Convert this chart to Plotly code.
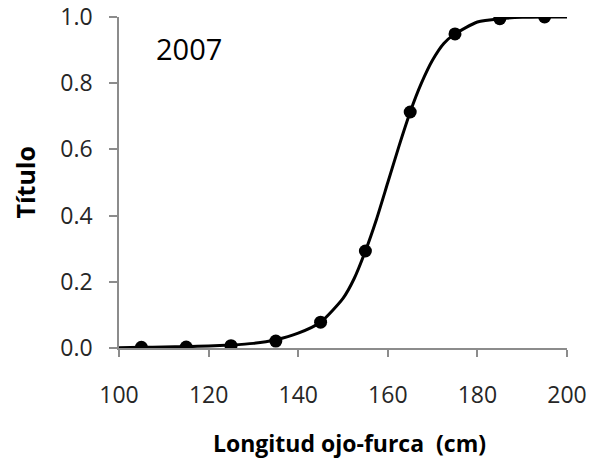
import plotly.graph_objects as go

# Observed proportions (dots)
length_cm = [105, 115, 125, 135, 145, 155, 165, 175, 185, 195]
proportion = [0.002, 0.003, 0.007, 0.021, 0.078, 0.293, 0.713, 0.949, 0.995, 1.0]

# Fitted curve, values
curve_x = [100, 105, 110, 115, 120, 125, 130, 135, 140, 145, 150, 152.5, 155, 157.5,
           160, 162.5, 165, 167.5, 170, 172.5, 175, 180, 185, 190, 195, 200]
curve_y = [0.001, 0.002, 0.003, 0.004, 0.006, 0.009, 0.014, 0.025, 0.045, 0.078, 0.15,
           0.21, 0.293, 0.39, 0.50, 0.61, 0.713, 0.80, 0.87, 0.92, 0.949, 0.985, 0.995,
           0.999, 1.0, 1.0]

x_ticks = [100, 120, 140, 160, 180, 200]
y_ticks = [0.0, 0.2, 0.4, 0.6, 0.8, 1.0]
y_tick_labels = ["0.0", "0.2", "0.4", "0.6", "0.8", "1.0"]

FONT = "Open Sans"

fig = go.Figure()
fig.add_trace(go.Scatter(x=curve_x, y=curve_y, mode="lines",
                         line=dict(color="black", width=3, shape="spline", smoothing=0.6),
                         hoverinfo="skip", showlegend=False))
fig.add_trace(go.Scatter(x=length_cm, y=proportion, mode="markers",
                         marker=dict(color="black", size=13), showlegend=False))

fig.update_layout(
    width=604, height=470,
    margin=dict(l=119, r=37, t=17, b=122, autoexpand=False),
    paper_bgcolor="white", plot_bgcolor="white",
    font=dict(family=FONT, color="#262626"),
    annotations=[
        dict(x=115.6, y=0.905, xref="x", yref="paper", text="2007",
             showarrow=False, xanchor="center", yanchor="middle",
             font=dict(family=FONT, size=29, color="black")),
        dict(x=0.5, xshift=6, y=-0.287, xref="paper", yref="paper",
             text="<b>Longitud ojo-furca  (cm)</b>", showarrow=False,
             xanchor="center", yanchor="middle",
             font=dict(family=FONT, size=23, color="black")),
        dict(x=-0.212, y=0.5, xref="paper", yref="paper", text="<b>Título</b>",
             textangle=-90, showarrow=False, xanchor="center", yanchor="middle",
             font=dict(family=FONT, size=25, color="black")),
    ],
)
fig.update_xaxes(range=[100, 200], tickvals=x_ticks, showline=True, linecolor="#8c8c8c",
                 linewidth=1.5, ticks="outside", ticklen=7, tickcolor="#8c8c8c",
                 tickwidth=1.5, showgrid=False, zeroline=False, ticklabelstandoff=19,
                 ticklabeloverflow="allow",
                 tickfont=dict(size=23, family=FONT, color="#262626"))
fig.update_yaxes(range=[0, 1.0], tickvals=y_ticks, ticktext=y_tick_labels, showline=True,
                 linecolor="#8c8c8c", linewidth=1.5, ticks="outside", ticklen=8,
                 tickcolor="#8c8c8c", tickwidth=1.5, showgrid=False, zeroline=False,
                 ticklabelstandoff=12, ticklabeloverflow="allow",
                 tickfont=dict(size=23, family=FONT, color="#262626"))

fig.write_html("out.html", config={"displayModeBar": False},
               post_script="document.body.style.margin='0';")
